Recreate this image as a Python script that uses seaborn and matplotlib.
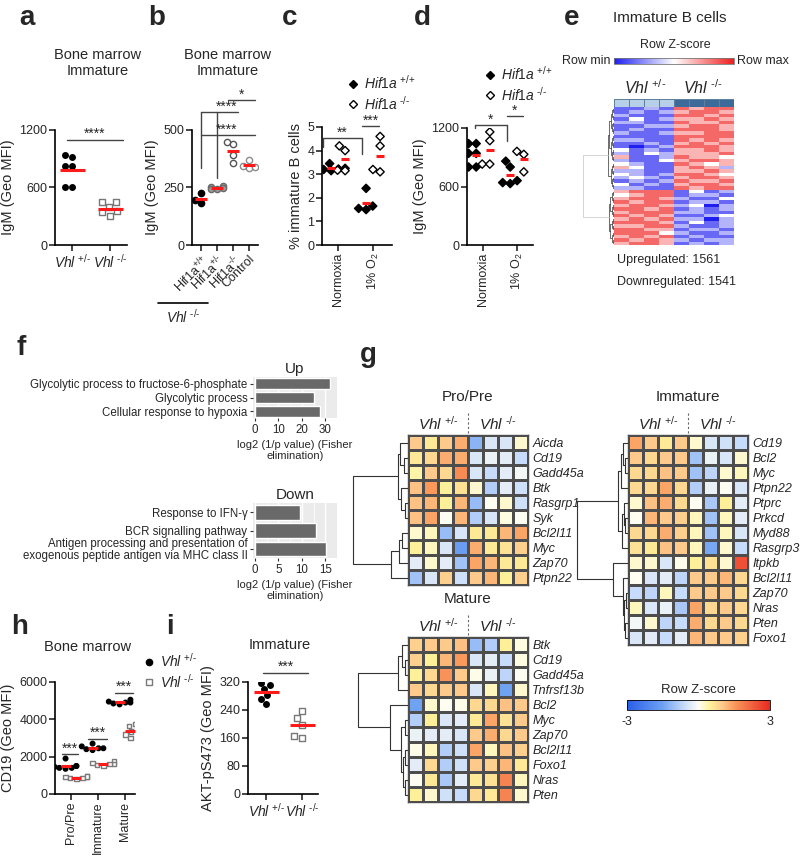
import numpy as np
import pandas as pd
import matplotlib
matplotlib.use('Agg')
import matplotlib.pyplot as plt
import seaborn as sns
from matplotlib.colors import LinearSegmentedColormap, ListedColormap, Normalize
from matplotlib.cm import ScalarMappable
from matplotlib.lines import Line2D

sns.set_style('ticks')
plt.rcParams['font.family'] = ['Liberation Sans', 'DejaVu Sans']
plt.rcParams['mathtext.fontset'] = 'custom'
plt.rcParams['mathtext.rm'] = 'Liberation Sans'
plt.rcParams['mathtext.it'] = 'Liberation Sans:italic'
plt.rcParams['mathtext.bf'] = 'Liberation Sans:bold'
plt.rcParams['axes.linewidth'] = 1.2
plt.rcParams['axes.edgecolor'] = 'black'

HET = r'$\mathit{Vhl}^{\ \text{+/-}}$'
KO = r'$\mathit{Vhl}^{\ \text{-/-}}$'
HIF_WT = r'$\mathit{Hif1a}^{\ \text{+/+}}$'
HIF_KO = r'$\mathit{Hif1a}^{\ \text{-/-}}$'

# ---------------- data ----------------
# a : IgM immature
a_het = [828, 828, 922, 939, 600, 600]
a_ko = [445, 445, 393, 358, 341, 303]

# b : IgM immature, Hif1a genotypes on Vhl-/-
b_order = ['wt', 'het', 'ko', 'ctrl']
b_labels = [r'Hif1a$^{\text{+/+}}$', r'Hif1a$^{\text{+/-}}$', r'Hif1a$^{\text{-/-}}$', 'Control']
b_wt = [226, 184, 196]
b_het = [252, 244, 256, 246, 242]
b_ko = [446, 440, 392, 358]
b_ctrl = [370, 334, 338, 345]

# c : % immature B cells
cond_order = ['Normoxia', '1% O2']
cond_labels = ['Normoxia', r'1% O$_2$']
c_wt_norm = [3.45, 3.25, 3.2, 3.15, 3.22]
c_ko_norm = [4.2, 4.0, 3.17, 3.15]
c_wt_hyp = [2.4, 1.65, 1.55, 1.5]
c_ko_hyp = [4.6, 4.2, 3.2, 3.1]

# d : IgM
d_wt_norm = [1040, 1040, 940, 940, 800, 800]
d_ko_norm = [1160, 1070, 830, 830]
d_wt_hyp = [860, 800, 660, 640, 630]
d_ko_hyp = [960, 930, 750]

# e : RNA-seq heatmap (row z-scores, Vhl+/- x4, Vhl-/- x4)
e_groups = [0, 0, 0, 0, 1, 1, 1, 1]
e_up = [
    [-2, -2, -1, -2, 2, 1, 2, 2], [-2, -1, -2, -1, 1, 2, 2, 1], [-1, -2, -2, -2, 2, 2, 1, 2],
    [-2, 0, -2, -1, 1, 1, 2, 1], [-1, -1, -2, -2, 2, 1, 1, 2], [-2, -2, -1, -1, 1, 2, 2, 1],
    [-2, -1, -2, -2, 2, 2, 2, 1], [-1, -2, -2, -1, 1, 1, 2, 2], [-2, -2, -2, -2, 2, 2, 2, 2],
    [-1, -1, -2, -2, 2, 1, 2, 1], [-2, -2, -1, -2, 1, 2, 1, 2], [-2, -3, -2, -1, 2, 2, 2, 1],
    [0, -2, -1, -2, 1, 1, 2, 1], [-1, -2, 0, -1, 1, 1, 1, 2], [1, -2, -2, -1, 2, 1, 1, 0],
    [-1, -2, -2, 0, 1, 2, 2, 1], [0, -1, -2, -2, 2, 1, 0, 1], [1, 0, -2, -2, 1, 2, 1, -1],
    [-1, -1, -2, -2, 1, 1, 2, 1], [0, -1, -2, -1, 2, 2, 1, 0], [-1, 0, -1, -2, 1, 2, 2, 1],
    [-2, -1, -2, -1, 2, 1, 1, 2], [0, -2, -1, -2, 1, 2, 2, 1], [-1, -1, -2, -2, 2, 1, 2, 2],
]
e_down = [
    [1, 2, 2, 2, -2, 0, -2, -1], [0, 1, 2, 2, -2, -1, -1, -2], [1, 2, 2, 1, -1, -2, -2, 0],
    [2, 1, 2, 2, -2, -1, -1, -2], [1, 2, 2, 1, -1, 0, -3, -1], [2, 2, 1, 2, -2, -1, -2, -1],
    [1, 2, 2, 2, -1, -1, -2, -2], [2, 1, 2, 1, -2, -2, -1, 0], [1, 2, 1, 2, -1, -1, -3, -1],
    [2, 2, 2, 1, -2, 0, -2, -1], [1, 1, 2, 2, -1, -2, -2, -1], [2, 2, 1, 1, -2, -1, -1, -2],
    [2, 2, 2, 0, -1, -2, -2, -1], [1, 2, 1, 2, -2, -1, -2, -2], [2, 1, 2, 1, -1, -2, -1, -1],
    [1, 2, 2, 1, -2, -1, -2, -1],
]

# f : GO terms
up_terms = ['Glycolytic process to fructose-6-phosphate', 'Glycolytic process',
            'Cellular response to hypoxia']
up_vals = [32, 25, 27.6]
down_terms = ['Response to IFN-\u03b3', 'BCR signalling pathway',
              'Antigen processing and presentation of\nexogenous peptide antigen via MHC class II']
down_vals = [9.6, 13.0, 15.2]

# g : gene heatmaps
pro_genes = ['Aicda', 'Cd19', 'Gadd45a', 'Btk', 'Rasgrp1', 'Syk', 'Bcl2l11', 'Myc', 'Zap70', 'Ptpn22']
pro_z = [
    [1.0, 0.6, 1.0, 1.3, -1.2, -0.4, -0.4, 0.2],
    [0.6, 0.8, 1.3, 1.3, -0.4, -0.2, -0.3, -0.6],
    [0.4, 1.0, 0.8, 1.7, -0.4, -0.6, -0.3, -0.1],
    [1.1, 1.5, 0.5, 0.7, 0.2, -0.8, -0.3, -0.5],
    [1.1, 1.2, 0.5, 1.2, -1.1, 0.0, 0.2, -0.5],
    [1.1, 1.4, 0.0, 1.2, -0.8, -0.4, 0.1, 0.0],
    [0.2, 0.3, -1.1, -0.4, 0.6, 0.6, 1.2, 1.4],
    [0.5, 0.3, -0.4, -1.6, 1.3, 0.6, 0.7, 0.9],
    [-0.3, 0.2, -0.3, -1.0, 1.4, 1.2, 0.6, 0.6],
    [-1.0, -0.4, 0.9, -0.5, 1.0, 1.2, 0.5, 0.9],
]
pro_tree = [(1, 2, 0.08), (0, 10, 0.14), (4, 5, 0.06), (3, 12, 0.12), (11, 13, 0.18),
            (6, 7, 0.10), (15, 8, 0.16), (16, 9, 0.30), (14, 17, 1.0)]

imm_genes = ['Cd19', 'Bcl2', 'Myc', 'Ptpn22', 'Ptprc', 'Prkcd', 'Myd88', 'Rasgrp3',
             'Itpkb', 'Bcl2l11', 'Zap70', 'Nras', 'Pten', 'Foxo1']
imm_z = [
    [1.4, 1.0, 0.6, 1.0, 0.2, -0.4, -0.5, -0.6],
    [1.0, 0.8, 1.0, 1.0, -1.0, -0.2, -0.4, 0.2],
    [0.8, 0.8, 1.1, 1.0, -1.0, -0.7, 0.2, 0.3],
    [0.8, 0.8, 1.4, 0.8, -0.8, -0.2, 0.0, -0.4],
    [0.2, 1.1, 1.3, 0.8, 0.0, -0.9, 0.5, -0.3],
    [0.0, 1.2, 1.0, 0.9, 0.3, -1.0, 0.3, -0.3],
    [0.8, 0.8, 1.3, 0.9, 0.3, -1.0, 0.3, -0.4],
    [0.7, 0.6, 1.1, 1.0, 0.3, -1.4, 0.2, -0.6],
    [0.2, 0.2, -0.4, 0.05, 0.5, 0.7, 0.2, 2.5],
    [0.0, -0.4, -0.3, -0.7, 1.0, 1.0, 1.2, 0.8],
    [-0.6, -0.7, 0.3, -0.6, 1.0, 1.0, 1.0, 0.8],
    [0.3, -0.4, -0.2, -0.9, 1.4, 0.8, 1.0, 0.8],
    [-0.1, 0.2, -0.7, -0.6, 1.3, 0.8, 1.0, 0.8],
    [-0.4, -0.3, -0.6, -0.3, 1.2, 1.0, 1.0, 0.9],
]
imm_tree = [(1, 2, 0.05), (0, 14, 0.10), (3, 15, 0.13), (5, 6, 0.05), (4, 17, 0.08),
            (18, 7, 0.11), (16, 19, 0.20), (10, 11, 0.04), (12, 13, 0.05), (21, 22, 0.08),
            (9, 23, 0.10), (8, 24, 0.30), (20, 25, 1.0)]

mat_genes = ['Btk', 'Cd19', 'Gadd45a', 'Tnfrsf13b', 'Bcl2', 'Myc', 'Zap70', 'Bcl2l11',
             'Foxo1', 'Nras', 'Pten']
mat_z = [
    [0.9, 1.0, 1.0, 1.1, -1.1, -0.8, 0.5, 0.1],
    [0.9, 0.5, 1.2, 1.5, -0.4, -0.3, -0.6, 0.1],
    [0.5, 0.8, 1.6, 1.0, 0.05, -0.2, -0.7, 0.0],
    [1.0, 0.8, 1.0, 1.0, -0.4, 0.3, -1.5, 0.2],
    [-1.5, 0.2, 0.0, 0.05, 0.8, 0.8, 1.1, 1.0],
    [-0.8, 0.5, -0.4, -0.3, 0.6, 1.4, 0.7, 1.0],
    [-0.2, -0.3, -0.3, -0.4, 1.0, 1.3, 0.8, 1.0],
    [0.05, 0.3, -0.8, -0.5, 1.4, 0.3, 1.1, 0.9],
    [-0.3, 0.8, -0.8, -0.5, 1.0, 0.9, 1.2, 0.6],
    [0.0, 0.6, -0.9, -0.3, 0.6, 0.7, 1.8, 0.3],
    [0.5, 0.2, -0.5, -0.6, 0.8, 0.6, 1.8, 0.2],
]
mat_tree = [(1, 2, 0.06), (0, 11, 0.12), (12, 3, 0.20), (5, 6, 0.06), (7, 8, 0.05),
            (9, 10, 0.06), (15, 16, 0.10), (14, 17, 0.14), (4, 18, 0.36), (13, 19, 1.0)]

# h : CD19 by stage
h_order = ['Pro/Pre', 'Immature', 'Mature']
h_het = {'Pro/Pre': [1900, 1500, 1450, 1400, 1350, 1500, 1400],
         'Immature': [2700, 2550, 2450, 2400, 2350, 2450],
         'Mature': [5050, 4950, 4900, 4850, 4800, 4900]}
h_ko = {'Pro/Pre': [950, 900, 850, 800, 850, 950],
        'Immature': [1750, 1650, 1600, 1550, 1500, 1600],
        'Mature': [3750, 3650, 3450, 3350, 3200, 3000]}

# i : AKT-pS473
i_het = [300, 312, 318, 258, 282, 272]
i_ko = [218, 238, 198, 160, 167]

# ---------------- layout helpers ----------------
W, H = 800, 858
fig = plt.figure(figsize=(W / 100, H / 100), dpi=100)


def add_ax(l, t, r, b):
    return fig.add_axes([l / W, 1 - b / H, (r - l) / W, (b - t) / H])


def ftext(x, y, s, **kw):
    kw.setdefault('ha', 'center')
    kw.setdefault('va', 'center')
    fig.text(x / W, 1 - y / H, s, **kw)


def prism(ax, ylabel):
    sns.despine(ax=ax)
    ax.tick_params(direction='out', length=4, width=1.2, labelsize=9, pad=1.5)
    ax.set_xlabel('')
    ax.set_ylabel(ylabel, fontsize=10.5, labelpad=3)


def bracket(ax, x1, x2, y, label, drops=(), tx=None, dy=0):
    ax.plot([x1, x2], [y, y], color='#444', lw=1, clip_on=False)
    for xx, yy in drops:
        ax.plot([xx, xx], [y, yy], color='#444', lw=1, clip_on=False)
    if tx is None:
        tx = (x1 + x2) / 2
    ax.text(tx, y + dy, label, ha='center', va='bottom', fontsize=10, clip_on=False)


def long_df(groups):
    rows = []
    for key, vals in groups:
        for v in vals:
            rows.append((*key, v))
    return rows


for letter, (x, y) in {'a': (27, 18), 'b': (157, 18), 'c': (290, 18), 'd': (422, 18),
                       'e': (572, 18), 'f': (21, 348), 'g': (368, 355), 'h': (20, 627),
                       'i': (170, 627)}.items():
    ftext(x, y, letter, fontsize=20, fontweight='bold')

# ---------------- a ----------------
ax = add_ax(55, 130, 127, 245)
df_a = pd.DataFrame(long_df([(('het',), a_het), (('ko',), a_ko)]), columns=['g', 'v'])
sns.swarmplot(data=df_a[df_a.g == 'het'], x='g', y='v', order=['het', 'ko'], color='black',
              size=5, ax=ax)
sns.swarmplot(data=df_a[df_a.g == 'ko'], x='g', y='v', order=['het', 'ko'], color='white',
              edgecolor='#777777', linewidth=1, marker='s', size=5, ax=ax)
sns.pointplot(data=df_a, x='g', y='v', order=['het', 'ko'], errorbar=None, color='#ff1a1a',
              markers='_', linestyles='none', markersize=18, markeredgewidth=2.2, ax=ax, zorder=5)
ax.set_xlim(-0.45, 1.45)
ax.set_ylim(0, 1200)
ax.set_yticks([0, 600, 1200])
ax.set_xticks([0, 1], [HET, KO])
prism(ax, 'IgM (Geo MFI)')
ax.tick_params(axis='x', labelsize=10)
bracket(ax, -0.13, 1.34, 1100, '****', dy=-10)
ftext(98, 63, 'Bone marrow\nImmature', fontsize=10.5)

# ---------------- b ----------------
ax = add_ax(192, 130, 258, 245)
df_b = pd.DataFrame(long_df([(('wt',), b_wt), (('het',), b_het), (('ko',), b_ko),
                             (('ctrl',), b_ctrl)]), columns=['g', 'v'])
b_style = {'wt': ('black', 'black'), 'het': ('#9a9a9a', '#6a6a6a'),
           'ko': ('white', '#555555'), 'ctrl': ('white', '#8a8a8a')}
for g in b_order:
    fc, ec = b_style[g]
    sns.swarmplot(data=df_b[df_b.g == g], x='g', y='v', order=b_order, color=fc,
                  edgecolor=ec, linewidth=1, size=4.5, ax=ax)
sns.pointplot(data=df_b, x='g', y='v', order=b_order, errorbar=None, color='#ff1a1a',
              markers='_', linestyles='none', markersize=9, markeredgewidth=2.2, ax=ax, zorder=5)
ax.set_xlim(-0.56, 3.56)
ax.set_ylim(0, 500)
ax.set_yticks([0, 250, 500])
ax.set_xticks(range(4))
ax.set_xticklabels(b_labels, rotation=45, ha='right', rotation_mode='anchor')
prism(ax, 'IgM (Geo MFI)')
ax.plot([0, 0], [580, 333], color='#444', lw=1, clip_on=False)
ax.plot([1, 1], [580, 290], color='#444', lw=1, clip_on=False)
bracket(ax, 0, 2.3, 580, '****', tx=1.6, dy=-8)
bracket(ax, 0, 3.4, 478, '****', tx=1.6, dy=-8)
bracket(ax, 1.7, 3.4, 630, '*', tx=2.55, dy=-8)
ftext(228, 63, 'Bone marrow\nImmature', fontsize=10.5)
fig.add_artist(Line2D([158 / W, 208 / W], [1 - 303 / H] * 2, color='black', lw=1.2))
ftext(183, 317, KO, fontsize=10)


# ---------------- c / d / h dodged panels ----------------
def hue_panel(ax, rows, order, styles, ms):
    df = pd.DataFrame(rows, columns=['cond', 'geno', 'v'])
    for geno, (fc, ec, mk, sz) in styles.items():
        sns.swarmplot(data=df[df.geno == geno], x='cond', y='v', hue='geno',
                      hue_order=list(styles), order=order,
                      palette={k: fc for k in styles}, dodge=True, marker=mk, size=sz,
                      edgecolor=ec, linewidth=1, legend=False, ax=ax)
    sns.pointplot(data=df, x='cond', y='v', hue='geno', hue_order=list(styles), order=order,
                  palette={k: '#ff1a1a' for k in styles}, dodge=0.4, errorbar=None,
                  markers='_', linestyles='none', markersize=ms, markeredgewidth=2.2,
                  legend=False, ax=ax, zorder=5)


dia_styles = {'wt': ('black', 'black', 'D', 4.2), 'ko': ('white', 'black', 'D', 4.2)}

ax = add_ax(322, 127, 392, 245)
hue_panel(ax, long_df([(('Normoxia', 'wt'), c_wt_norm), (('Normoxia', 'ko'), c_ko_norm),
                       (('1% O2', 'wt'), c_wt_hyp), (('1% O2', 'ko'), c_ko_hyp)]),
          cond_order, dia_styles, 6)
ax.set_xlim(-0.46, 1.54)
ax.set_ylim(0, 5)
ax.set_yticks(range(6))
ax.set_xticks([0, 1])
ax.set_xticklabels(cond_labels, rotation=90)
prism(ax, '% immature B cells')
bracket(ax, -0.44, 0.69, 4.55, '**', drops=[(-0.44, 4.15), (0.69, 3.87)], dy=-0.08)
bracket(ax, 0.69, 1.17, 5.03, '***', dy=-0.08)

ax = add_ax(467, 128, 533, 245)
hue_panel(ax, long_df([(('Normoxia', 'wt'), d_wt_norm), (('Normoxia', 'ko'), d_ko_norm),
                       (('1% O2', 'wt'), d_wt_hyp), (('1% O2', 'ko'), d_ko_hyp)]),
          cond_order, dia_styles, 6)
ax.set_xlim(-0.47, 1.47)
ax.set_ylim(0, 1200)
ax.set_yticks([0, 600, 1200])
ax.set_xticks([0, 1])
ax.set_xticklabels(cond_labels, rotation=90)
prism(ax, 'IgM (Geo MFI)')
bracket(ax, -0.24, 0.7, 1234, '*', drops=[(-0.24, 1200), (0.7, 1063)], dy=-25)
bracket(ax, 0.7, 1.18, 1327, '*', dy=-25)

hif_handles = [Line2D([], [], marker='D', ls='none', mfc='black', mec='black', ms=4.5),
               Line2D([], [], marker='D', ls='none', mfc='white', mec='black', ms=4.5)]
for x0, y0 in [(342, 93), (479, 84)]:
    fig.legend(hif_handles, [HIF_WT, HIF_KO], loc='center left',
               bbox_to_anchor=(x0 / W, 1 - y0 / H), frameon=False, fontsize=10,
               handlelength=0.6, handletextpad=0.5, labelspacing=0.2, borderpad=0)

# ---------------- e ----------------
e_cmap = LinearSegmentedColormap.from_list('e', ['#1e1ef0', '#ffffff', '#f01e1e'])
ftext(670, 18, 'Immature B cells', fontsize=11)
ftext(675, 45, 'Row Z-score', fontsize=9)
cax = add_ax(614, 58, 734, 64)
cb = fig.colorbar(ScalarMappable(norm=Normalize(-3, 3), cmap=e_cmap), cax=cax,
                  orientation='horizontal')
cb.set_ticks([])
cb.outline.set_linewidth(0.6)
cb.outline.set_edgecolor('#777')
ftext(611, 61, 'Row min', fontsize=9, ha='right')
ftext(737, 61, 'Row max', fontsize=9, ha='left')
ftext(645, 88, HET, fontsize=11.5)
ftext(703, 88, KO, fontsize=11.5)

ax = add_ax(614, 99, 734, 107)
sns.heatmap(pd.DataFrame([e_groups]), cmap=ListedColormap(['#b7cfe7', '#3c6b9a']), cbar=False,
            linewidths=0.6, linecolor='#5f7f9f', xticklabels=False, yticklabels=False, ax=ax)

ax = add_ax(614, 107, 734, 245)
e_mat = pd.DataFrame(e_up + e_down)
sns.heatmap(e_mat, cmap=e_cmap, vmin=-3, vmax=3, cbar=False, xticklabels=False,
            yticklabels=False, ax=ax)
ftext(617, 260, 'Upregulated: 1561', fontsize=9, ha='left')
ftext(617, 282, 'Downregulated: 1541', fontsize=9, ha='left')


def draw_dendro(ax, merges, n, color, lw, root_color=None, xmax=1.05):
    pos = {i: (0.0, i + 0.5) for i in range(n)}
    for k, (a, b, hgt) in enumerate(merges):
        xa, ya = pos[a]
        xb, yb = pos[b]
        c = root_color if (root_color and hgt >= 0.5) else color
        ax.plot([xa, hgt, hgt, xb], [ya, ya, yb, yb], color=c, lw=lw)
        pos[n + k] = (hgt, (ya + yb) / 2)
    ax.set_ylim(n, 0)
    ax.set_xlim(xmax, 0)
    ax.axis('off')


def balanced(nodes, next_id, merges, hgt, step):
    while len(nodes) > 1:
        new = []
        for j in range(0, len(nodes) - 1, 2):
            merges.append((nodes[j], nodes[j + 1], hgt))
            new.append(next_id)
            next_id += 1
        if len(nodes) % 2:
            new.append(nodes[-1])
        nodes = new
        hgt += step
    return nodes[0], next_id


n_e = len(e_up) + len(e_down)
e_tree = []
top, nid = balanced(list(range(len(e_up))), n_e, e_tree, 0.03, 0.04)
bot, nid = balanced(list(range(len(e_up), n_e)), nid, e_tree, 0.03, 0.045)
e_tree.append((top, bot, 1.0))
ax = add_ax(580, 107, 614, 245)
draw_dendro(ax, e_tree, n_e, '#333333', 0.5, root_color='#c4c4c4', xmax=1.1)

# ---------------- f ----------------


def go_bar(ax, terms, vals, title, xlim, ticks):
    df = pd.DataFrame({'term': terms, 'val': vals})
    ax.set_facecolor('#ebebeb')
    sns.barplot(data=df, x='val', y='term', color='#696969', saturation=1, width=0.8, ax=ax)
    ax.set_xlim(*xlim)
    ax.set_xticks(ticks)
    ax.set_xticks([t + (ticks[1] - ticks[0]) / 2 for t in ticks], minor=True)
    ax.grid(axis='x', which='major', color='white', lw=1)
    ax.grid(axis='x', which='minor', color='white', lw=0.5)
    ax.set_axisbelow(True)
    for s in ax.spines.values():
        s.set_visible(False)
    ax.tick_params(axis='both', which='major', length=2, color='#333', labelsize=8.3, pad=2)
    ax.tick_params(axis='x', which='minor', length=0)
    for t in ax.get_yticklabels():
        t.set_linespacing(0.95)
    ax.set_ylabel('')
    ax.set_xlabel('log2 (1/p value) (Fisher\nelimination)', fontsize=8, labelpad=3)
    ax.set_title(title, fontsize=11, pad=3)


go_bar(add_ax(253, 377, 337, 418), up_terms, up_vals, 'Up', (-0.8, 33.6), [0, 10, 20, 30])
go_bar(add_ax(253, 503, 337, 558), down_terms, down_vals, 'Down', (-0.4, 16.8), [0, 5, 10, 15])

# ---------------- g ----------------
g_cmap = LinearSegmentedColormap.from_list('g', [(0.0, '#2a5ee8'), (0.25, '#6fa2f2'),
                                                 (0.4, '#c7dbfa'), (0.5, '#fdfdf4'),
                                                 (0.58, '#fdf29a'), (0.67, '#fdc88a'),
                                                 (0.75, '#f99a5c'), (1.0, '#e82a22')])


def gene_heat(ax_h, ax_d, z, genes, tree, title):
    df = pd.DataFrame(z, index=genes)
    sns.heatmap(df, cmap=g_cmap, vmin=-3, vmax=3, cbar=False, linewidths=0.9,
                linecolor='#4d4d4d', xticklabels=False, yticklabels=genes, ax=ax_h)
    ax_h.yaxis.tick_right()
    ax_h.tick_params(axis='y', length=0, pad=3, labelsize=9, labelrotation=0)
    for t in ax_h.get_yticklabels():
        t.set_style('italic')
    for s in ax_h.spines.values():
        s.set_visible(True)
        s.set_color('#4d4d4d')
        s.set_linewidth(1)
    ax_h.set_xlabel('')
    ax_h.set_ylabel('')
    ax_h.plot([4, 4], [-1.45, 0], ls=(0, (2, 2)), color='#666', lw=0.8, clip_on=False)
    ax_h.text(2, -0.78, HET, ha='center', va='center', fontsize=11)
    ax_h.text(6, -0.78, KO, ha='center', va='center', fontsize=11)
    ax_h.text(4, -2.55, title, ha='center', va='center', fontsize=11)
    draw_dendro(ax_d, tree, len(genes), '#333333', 0.8)


gene_heat(add_ax(408, 435, 528, 585), add_ax(350, 435, 408, 585), pro_z, pro_genes, pro_tree,
          'Pro/Pre')
gene_heat(add_ax(628, 435, 748, 645), add_ax(574, 435, 628, 645), imm_z, imm_genes, imm_tree,
          'Immature')
gene_heat(add_ax(408, 637, 528, 802), add_ax(355, 637, 408, 802), mat_z, mat_genes, mat_tree,
          'Mature')

cax = add_ax(627, 700, 770, 710)
cb = fig.colorbar(ScalarMappable(norm=Normalize(-3, 3), cmap=g_cmap), cax=cax,
                  orientation='horizontal', ticks=[-3, 3])
cb.outline.set_linewidth(0.6)
cax.set_xticklabels(['-3', '3'])
cax.tick_params(length=0, labelsize=9, pad=4)
cax.set_title('Row Z-score', fontsize=9.5, pad=5)

# ---------------- h ----------------
ax = add_ax(55, 682, 135, 794)
h_rows = []
for cell in h_order:
    h_rows += [(cell, 'wt', v) for v in h_het[cell]]
    h_rows += [(cell, 'ko', v) for v in h_ko[cell]]
hue_panel(ax, h_rows, h_order,
          {'wt': ('black', 'black', 'o', 3.3), 'ko': ('white', '#7a7a7a', 's', 3.3)}, 7)
ax.set_xlim(-0.59, 2.37)
ax.set_ylim(0, 6000)
ax.set_yticks([0, 2000, 4000, 6000])
ax.set_xticks(range(3))
ax.set_xticklabels(h_order, rotation=90)
prism(ax, 'CD19 (Geo MFI)')
bracket(ax, -0.33, 0.26, 2120, '***', dy=-60)
bracket(ax, 0.63, 1.34, 2970, '***', dy=-60)
bracket(ax, 1.63, 2.30, 5430, '***', dy=-60)
ftext(88, 647, 'Bone marrow', fontsize=10.5)
vhl_handles = [Line2D([], [], marker='o', ls='none', mfc='black', mec='black', ms=4.5),
               Line2D([], [], marker='s', ls='none', mfc='white', mec='#7a7a7a', ms=4.5)]
fig.legend(vhl_handles, [HET, KO], loc='center left', bbox_to_anchor=(138 / W, 1 - 671 / H),
           frameon=False, fontsize=10, handlelength=0.6, handletextpad=0.5,
           labelspacing=0.2, borderpad=0)

# ---------------- i ----------------
ax = add_ax(248, 682, 318, 794)
df_i = pd.DataFrame(long_df([(('het',), i_het), (('ko',), i_ko)]), columns=['g', 'v'])
sns.swarmplot(data=df_i[df_i.g == 'het'], x='g', y='v', order=['het', 'ko'], color='black',
              size=5, ax=ax)
sns.swarmplot(data=df_i[df_i.g == 'ko'], x='g', y='v', order=['het', 'ko'], color='white',
              edgecolor='#777777', linewidth=1, marker='s', size=5, ax=ax)
sns.pointplot(data=df_i, x='g', y='v', order=['het', 'ko'], errorbar=None, color='#ff1a1a',
              markers='_', linestyles='none', markersize=18, markeredgewidth=2.2, ax=ax, zorder=5)
ax.set_xlim(-0.5, 1.44)
ax.set_ylim(0, 320)
ax.set_yticks([0, 80, 160, 240, 320])
ax.set_xticks([0, 1], [HET, KO])
prism(ax, 'AKT-pS473 (Geo MFI)')
ax.tick_params(axis='x', labelsize=10)
bracket(ax, -0.08, 1.17, 346, '***', dy=-3)
ftext(280, 645, 'Immature', fontsize=10.5)

fig.savefig('out.png', dpi=100)
